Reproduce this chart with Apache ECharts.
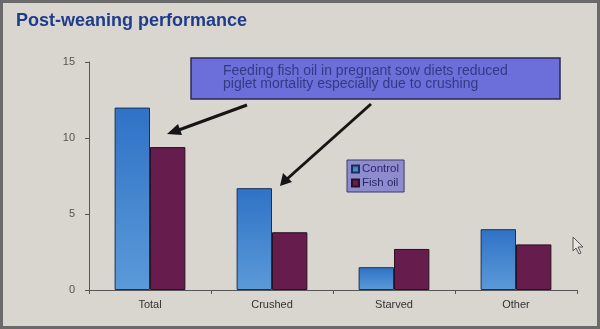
<!DOCTYPE html>
<html>
<head>
<meta charset="utf-8">
<script src="https://cdn.jsdelivr.net/npm/echarts@6/dist/echarts.min.js"></script>
<style>
  html, body { margin: 0; padding: 0; background: #d9d6cf; }
  #chart { width: 600px; height: 329px; }
</style>
</head>
<body>
<div id="chart"></div>
<script>
// Piglet mortality by cause, control vs. fish oil diet
var categories = ['Total', 'Crushed', 'Starved', 'Other'];
var controlValues = [12.0, 6.7, 1.5, 4.0];
var fishOilValues = [9.4, 3.8, 2.7, 3.0];
var yTicks = [0, 5, 10, 15];

var chart = echarts.init(document.getElementById('chart'), null, { renderer: 'canvas' });

var FONT = '"Liberation Sans", Arial, sans-serif';

chart.setOption({
  backgroundColor: '#d9d6cf',
  animation: false,
  title: {
    text: 'Post-weaning performance',
    left: 11,
    top: 7,
    textStyle: { fontFamily: FONT, fontWeight: 'bold', fontSize: 18, color: '#1f3c8c' }
  },
  legend: {
    data: ['Control', 'Fish oil'],
    orient: 'vertical',
    left: 347,
    top: 160,
    itemWidth: 7,
    itemHeight: 7,
    itemGap: 2,
    padding: [3, 5, 3, 4],
    backgroundColor: '#8e8cd0',
    borderColor: '#3a3a6a',
    borderWidth: 1,
    textStyle: { fontFamily: FONT, fontSize: 11.5, color: '#2a2a60', padding: [0, 0, 0, -2] },
    icon: 'rect'
  },
  grid: { left: 89, right: 23, top: 62, bottom: 39 },
  xAxis: {
    type: 'category',
    data: categories,
    axisLine: { lineStyle: { color: '#555', width: 1 } },
    axisTick: { show: true, length: 4, lineStyle: { color: '#555' } },
    axisLabel: { fontFamily: FONT, fontSize: 11, color: '#333', margin: 9 }
  },
  yAxis: {
    type: 'value',
    min: 0,
    max: 15,
    interval: 5,
    axisLine: { show: true, lineStyle: { color: '#555', width: 1 } },
    axisTick: { show: true, length: 4, lineStyle: { color: '#555' } },
    splitLine: { show: false },
    axisLabel: {
      fontFamily: FONT, fontSize: 11, color: '#555', margin: 14,
      formatter: function (v) { return yTicks.indexOf(v) >= 0 ? String(v) : ''; }
    }
  },
  series: [
    {
      name: 'Control',
      type: 'bar',
      data: controlValues,
      barGap: '0%',
      barCategoryGap: '42%',
      itemStyle: {
        color: new echarts.graphic.LinearGradient(0, 0, 0, 1, [
          { offset: 0, color: '#2f72c6' },
          { offset: 1, color: '#5b9ad8' }
        ]),
        borderColor: '#1c2f55',
        borderWidth: 1
      }
    },
    {
      name: 'Fish oil',
      type: 'bar',
      data: fishOilValues,
      itemStyle: {
        color: '#661c4c',
        borderColor: '#2a1020',
        borderWidth: 1
      }
    }
  ],
  graphic: [
    // outer frame
    {
      type: 'rect',
      shape: { x: 1.5, y: 1.5, width: 597, height: 326 },
      style: { fill: null, stroke: '#6a6a6a', lineWidth: 3 },
      z: 100
    },
    // callout box
    {
      type: 'rect',
      shape: { x: 191, y: 58, width: 369, height: 41 },
      style: { fill: '#6c6fd9', stroke: '#2a2a55', lineWidth: 1.5 },
      z: 50
    },
    {
      type: 'text',
      left: 223,
      top: 64,
      style: {
        text: 'Feeding fish oil in pregnant sow diets reduced\npiglet mortality especially due to crushing',
        font: '14px "Liberation Sans", Arial, sans-serif',
        fill: '#343a82',
        lineHeight: 13
      },
      z: 51
    },
    // arrows
    {
      type: 'line',
      shape: { x1: 247, y1: 105, x2: 176, y2: 131 },
      style: { stroke: '#151515', lineWidth: 3 },
      z: 50
    },
    {
      type: 'polygon',
      shape: { points: [[167, 134], [178, 124], [182, 135]] },
      style: { fill: '#151515' },
      z: 50
    },
    {
      type: 'line',
      shape: { x1: 371, y1: 104, x2: 287, y2: 179 },
      style: { stroke: '#151515', lineWidth: 3 },
      z: 50
    },
    {
      type: 'polygon',
      shape: { points: [[280, 186], [283, 173], [292, 182]] },
      style: { fill: '#151515' },
      z: 50
    },
    // mouse pointer
    {
      type: 'polygon',
      shape: { points: [[573, 237], [573, 251], [576, 248], [579, 254], [581, 253], [578, 247], [583, 247]] },
      style: { fill: '#e8e6e0', stroke: '#555', lineWidth: 1 },
      z: 50
    }
  ]
});
</script>
</body>
</html>
